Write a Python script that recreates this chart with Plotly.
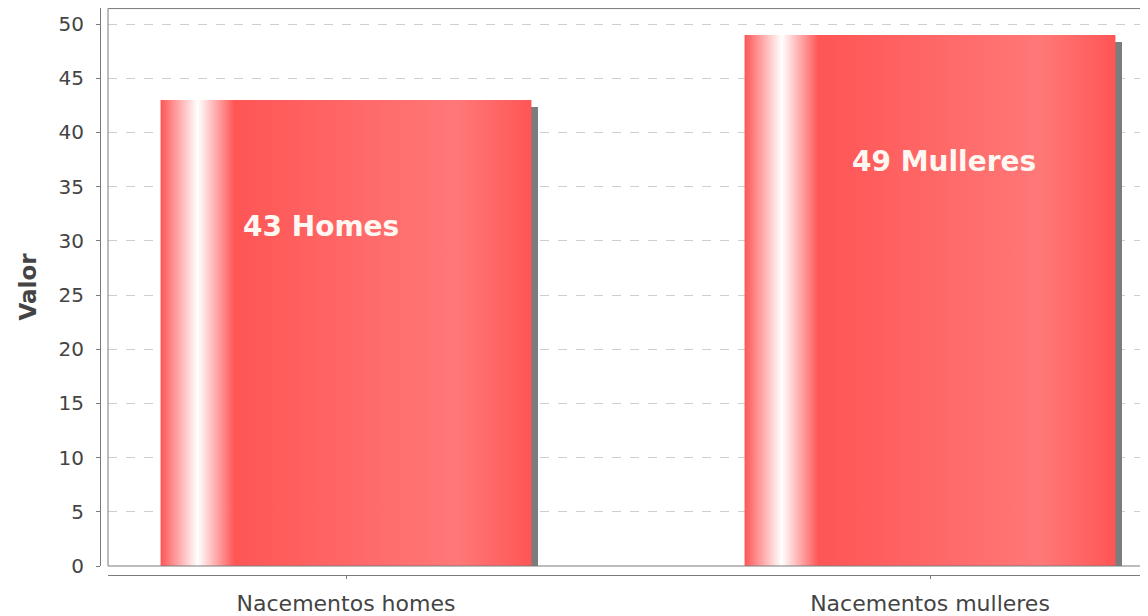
import plotly.graph_objects as go

# ---- data ----
categories = ["Nacementos homes", "Nacementos mulleres"]
values = [43, 49]
labels = ["43 Homes", "49 Mulleres"]
y_title = "Valor"

# ---- style / layout ----
# the page body has an 8px margin, so the figure starts at (8, 8)
W, H = 1140, 608
ML, MR, MT, MB = 92, 0, 0, 41
BAR_W = 0.635
PX_X = 584.0                     # px per category unit
PX_Y = 10.84                     # px per value unit
SHADOW_PX = 7
LABEL_XSHIFT = [-25, 14]
LABEL_YSHIFT = -127
C0 = "#ff5555"
C1 = "#ff7878"
GRAY_AXIS = "#7a7a7a"
TEXT = "#444444"

xpos = list(range(len(categories)))
plot_w = W - ML - MR
plot_h = H - MT - MB
x_dom0 = 8 / plot_w
y_dom0 = 9 / plot_h
x_range = [-238 / PX_X, len(categories) - 1 + 218 / PX_X]
y_range = [0, 51.48]

fig = go.Figure()

dx = SHADOW_PX / PX_X
dy = SHADOW_PX / PX_Y

# shadows
fig.add_trace(go.Bar(
    x=xpos, y=values, base=[-dy] * len(values), width=BAR_W,
    offset=-BAR_W / 2 + dx, marker=dict(color="#7c7c7c", line=dict(width=0)),
    hoverinfo="skip", showlegend=False))

# base bars
fig.add_trace(go.Bar(
    x=xpos, y=values, width=BAR_W,
    marker=dict(color=C0, line=dict(width=0)),
    showlegend=False))

# gradient overlay for each bar
for xp, v in zip(xpos, values):
    x0, x1 = xp - BAR_W / 2, xp + BAR_W / 2
    fig.add_trace(go.Scatter(
        x=[x0, x1, x1, x0, x0], y=[0, 0, v, v, 0],
        mode="lines", fill="toself", line=dict(width=0, color="rgba(0,0,0,0)"),
        fillgradient=dict(type="horizontal",
                          colorscale=[[0, C0], [0.1, "#ffffff"], [0.2, C0],
                                      [0.8, C1], [1, C0]]),
        hoverinfo="skip", showlegend=False))

for xp, v, lab, xs in zip(xpos, values, labels, LABEL_XSHIFT):
    fig.add_annotation(x=xp, y=v, text="<b>%s</b>" % lab, showarrow=False,
                       xshift=xs, yshift=LABEL_YSHIFT, yanchor="middle",
                       font=dict(family="DejaVu Sans", size=28, color="#fff8f2"))

# plot border (top, left, bottom)
fig.add_shape(type="rect", xref="paper", yref="paper",
              x0=x_dom0, x1=1.05, y0=y_dom0, y1=0.999,
              line=dict(color=GRAY_AXIS, width=1), layer="above")

fig.update_layout(
    width=W, height=H,
    margin=dict(l=ML, r=MR, t=MT, b=MB, pad=0),
    paper_bgcolor="white", plot_bgcolor="white",
    bargap=0, barmode="overlay",
    font=dict(family="DejaVu Sans", color=TEXT),
    xaxis=dict(domain=[x_dom0, 1], range=x_range, anchor="free", position=0,
               tickmode="array", tickvals=xpos, ticktext=categories,
               showgrid=False, zeroline=False, showline=True,
               linecolor=GRAY_AXIS, linewidth=1,
               ticks="outside", ticklen=3, tickcolor=GRAY_AXIS,
               tickfont=dict(size=22, color=TEXT), ticklabelstandoff=6),
    yaxis=dict(domain=[y_dom0, 1], range=y_range, anchor="free", position=0,
               tickmode="linear", tick0=0, dtick=5,
               showgrid=True, gridcolor="#cfcfcf", griddash="dash", gridwidth=1,
               zeroline=False, showline=True, linecolor=GRAY_AXIS, linewidth=1,
               ticks="outside", ticklen=4, tickcolor=GRAY_AXIS,
               tickfont=dict(size=20, color=TEXT), ticklabelstandoff=8,
               title=dict(text="<b>%s</b>" % y_title, standoff=14,
                          font=dict(size=23, color=TEXT))),
)

fig.write_html("out.html")
